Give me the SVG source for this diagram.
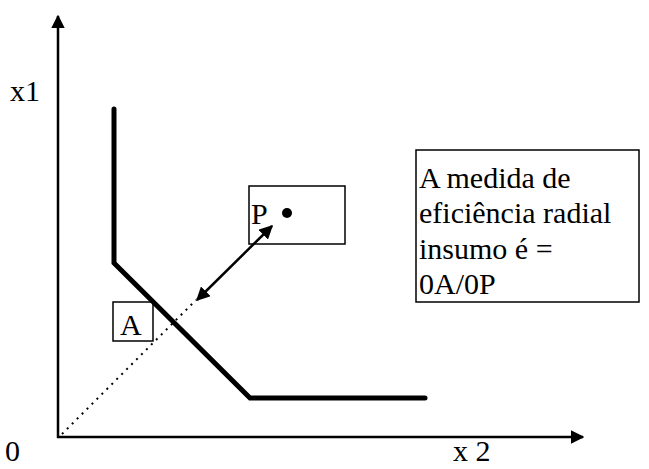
<svg xmlns="http://www.w3.org/2000/svg" width="649" height="469" viewBox="0 0 649 469">
<style>
.t{font-family:"Liberation Serif","Times New Roman",serif;font-size:30px;fill:#000}
.box{fill:none;stroke:#000;stroke-width:1.5}
.ax{stroke:#000;stroke-width:2.5;fill:none}
</style>
<defs>
<marker id="ah" viewBox="0 0 10 10" refX="9" refY="5" markerWidth="5.5" markerHeight="5.5" markerUnits="strokeWidth" orient="auto-start-reverse"><path d="M0,0 L10,5 L0,10 z" fill="#000"/></marker>
</defs>
<rect width="649" height="469" fill="#fff"/>
<g id="axes">
<line class="ax" x1="58" y1="438" x2="58" y2="16" marker-end="url(#ah)"/>
<line class="ax" x1="57" y1="437" x2="583" y2="437" marker-end="url(#ah)"/>
<text class="t" x="10" y="101">x1</text>
<text class="t" x="5" y="461">0</text>
<text class="t" x="453" y="461">x 2</text>
</g>
<g id="isoquant">
<path d="M114,109 L114,263 L250,398 L425,398" fill="none" stroke="#000" stroke-width="5" stroke-linecap="round"/>
</g>
<g id="connectors">
<line x1="62" y1="434" x2="196" y2="300" stroke="#000" stroke-width="2" stroke-dasharray="2,5"/>
<line x1="197" y1="300" x2="272" y2="226" stroke="#000" stroke-width="2.5" marker-start="url(#ah)" marker-end="url(#ah)"/>
</g>
<g id="nodeA">
<rect class="box" x="113" y="302" width="40" height="39"/>
<text class="t" x="120" y="335">A</text>
</g>
<g id="nodeP">
<rect class="box" x="249" y="186" width="96" height="58"/>
<text class="t" x="251" y="224">P</text>
<circle cx="287" cy="213" r="5" fill="#000"/>
</g>
<g id="note">
<rect class="box" x="416" y="150" width="223" height="152"/>
<text class="t" x="419" y="188">A medida de</text>
<text class="t" x="419" y="223">eficiência radial</text>
<text class="t" x="419" y="259">insumo é =</text>
<text class="t" x="419" y="294">0A/0P</text>
</g>
</svg>
